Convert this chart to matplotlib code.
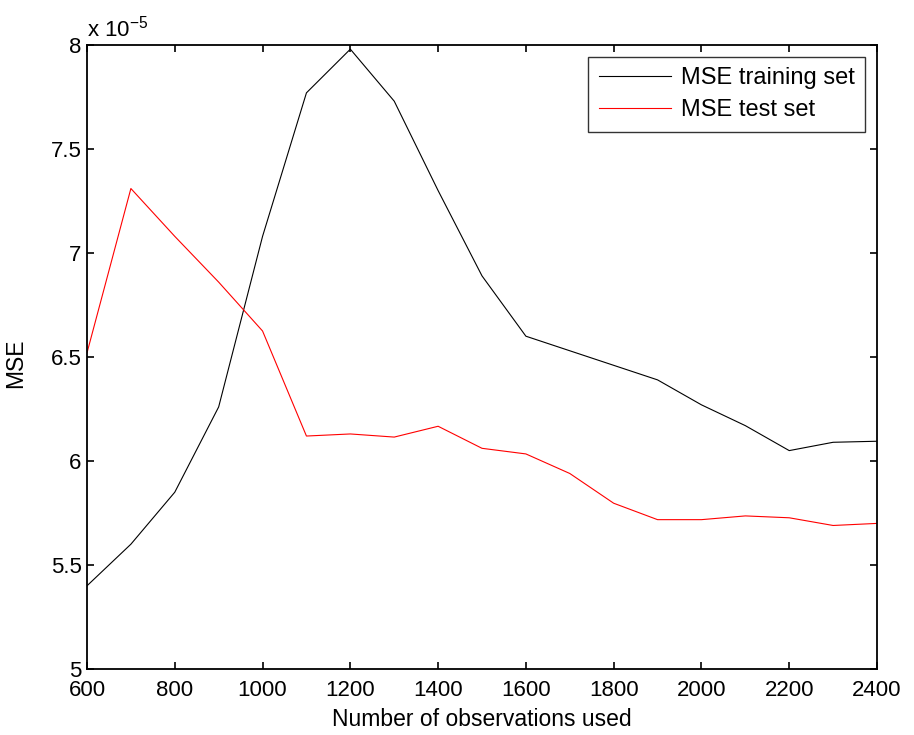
import matplotlib
matplotlib.use("Agg")
import matplotlib.pyplot as plt

plt.rcParams['font.family'] = ['Liberation Sans', 'DejaVu Sans']

n_obs = [600, 700, 800, 900, 1000, 1100, 1200, 1300, 1400, 1500, 1600,
         1700, 1800, 1900, 2000, 2100, 2200, 2300, 2400]
# values in units of 1e-5
mse_train = [5.40, 5.60, 5.85, 6.26, 7.08, 7.77, 7.98, 7.73, 7.30, 6.89, 6.60,
             6.53, 6.46, 6.39, 6.27, 6.17, 6.05, 6.09, 6.095]
mse_test = [6.52, 7.31, 7.08, 6.86, 6.625, 6.12, 6.13, 6.115, 6.167, 6.061, 6.034,
            5.94, 5.797, 5.718, 5.718, 5.736, 5.727, 5.69, 5.70]

xticks = [600, 800, 1000, 1200, 1400, 1600, 1800, 2000, 2200, 2400]
yticks = [5, 5.5, 6, 6.5, 7, 7.5, 8]
ytick_labels = ['5', '5.5', '6', '6.5', '7', '7.5', '8']

fig = plt.figure(figsize=(9.14, 7.35), dpi=100)
ax = fig.add_axes([87/914, 1-669/735, (877-87)/914, (669-45)/735])

ax.plot(n_obs, mse_train, color='black', lw=0.8, label='MSE training set')
ax.plot(n_obs, mse_test, color='red', lw=0.8, label='MSE test set')

ax.set_xlim(600, 2400)
ax.set_ylim(5, 8)
ax.set_xticks(xticks)
ax.set_yticks(yticks)
ax.set_yticklabels(ytick_labels)
ax.tick_params(direction='in', top=True, right=True, length=5, width=1.2,
               labelsize=16)
ax.tick_params(axis='x', pad=8)
ax.tick_params(axis='y', pad=4)
for s in ax.spines.values():
    s.set_linewidth(1.3)

ax.set_xlabel('Number of observations used', fontsize=16.5)
ax.xaxis.set_label_coords(0.5, -(708-669)/624)
ax.set_ylabel('MSE', fontsize=16.5)
ax.yaxis.set_label_coords(-(87-27)/790, 0.49)

ax.text(0.0, 1.006, r'x 10$^{\mathregular{-5}}$', transform=ax.transAxes,
        fontsize=16, ha='left', va='bottom')

leg = ax.legend(loc='upper right', fontsize=17, frameon=True, fancybox=False,
                edgecolor='black', handlelength=3.05, borderaxespad=0.5,
                borderpad=0.45, labelspacing=0.42, handletextpad=0.42)
leg.get_frame().set_linewidth(1.0)

fig.savefig('out.png', dpi=100)
